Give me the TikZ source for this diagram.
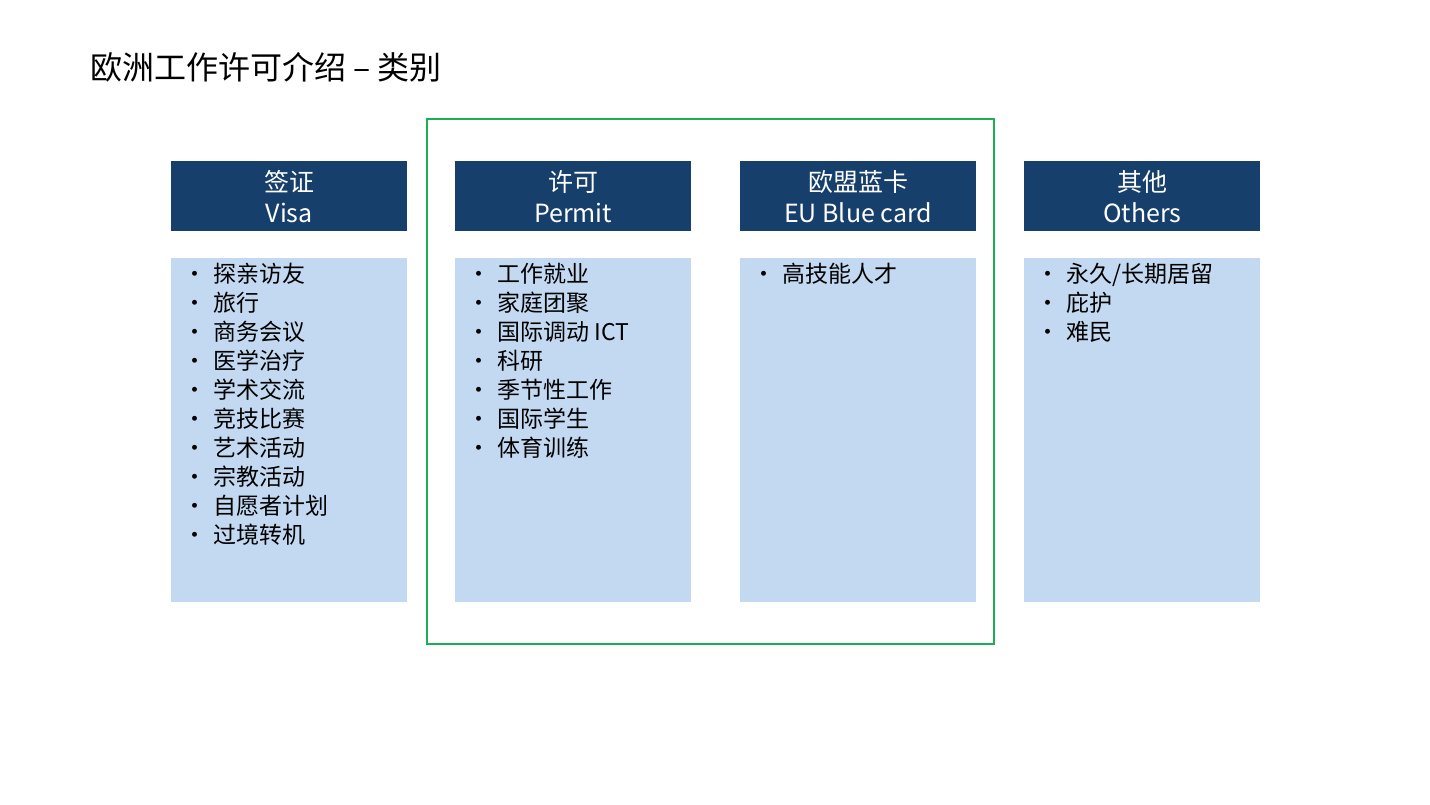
\documentclass[tikz,border=0pt]{standalone}
\usepackage{fontspec}
\setmainfont{Noto Sans CJK SC}
\usetikzlibrary{positioning}
\definecolor{headblue}{HTML}{173F6B}
\definecolor{bodyblue}{HTML}{C2D9F1}
\definecolor{framegreen}{HTML}{1BAE55}
\tikzset
{
    headbox/.style = {rectangle, fill=headblue, text=white, minimum width=236pt, minimum height=70pt, inner sep=0pt, align=center, font=\fontsize{25}{31}\selectfont},
    bodybox/.style = {rectangle, fill=bodyblue, minimum width=236pt, minimum height=344pt, inner sep=0pt},
    itemlist/.style = {anchor=north west, inner sep=0pt, align=left, font=\fontsize{23}{29}\selectfont},
}
\newcommand\itm[1]{\makebox[30pt][l]{•}#1}
\begin{document}
\begin{tikzpicture}[x=1pt,y=-1pt]
  \useasboundingbox (0,0) rectangle (1430,805);
  \node (title) [anchor=west, inner sep=0pt, font=\fontsize{32}{38}\selectfont] at (90,67) {欧洲工作许可介绍 – 类别};
  \draw[framegreen, line width=2pt] (427,119) rectangle (994,644);

  \node (hv) [headbox, anchor=north west] at (171,161) {签证\\Visa};
  \node (hp) [headbox, anchor=north west] at (455,161) {许可\\Permit};
  \node (he) [headbox, anchor=north west] at (740,161) {欧盟蓝卡\\EU Blue card};
  \node (ho) [headbox, anchor=north west] at (1024,161) {其他\\Others};

  \node (bv) [bodybox, below=26pt of hv] {};
  \node (bp) [bodybox, below=26pt of hp] {};
  \node (be) [bodybox, below=26pt of he] {};
  \node (bo) [bodybox, below=26pt of ho] {};

  \node (lv) [itemlist] at ([shift={(12,6)}]bv.north west) {\itm{探亲访友}\\\itm{旅行}\\\itm{商务会议}\\\itm{医学治疗}\\\itm{学术交流}\\\itm{竞技比赛}\\\itm{艺术活动}\\\itm{宗教活动}\\\itm{自愿者计划}\\\itm{过境转机}};
  \node (lp) [itemlist] at ([shift={(12,6)}]bp.north west) {\itm{工作就业}\\\itm{家庭团聚}\\\itm{国际调动 ICT}\\\itm{科研}\\\itm{季节性工作}\\\itm{国际学生}\\\itm{体育训练}};
  \node (le) [itemlist] at ([shift={(12,6)}]be.north west) {\itm{高技能人才}};
  \node (lo) [itemlist] at ([shift={(12,6)}]bo.north west) {\itm{永久/长期居留}\\\itm{庇护}\\\itm{难民}};
\end{tikzpicture}
\end{document}
